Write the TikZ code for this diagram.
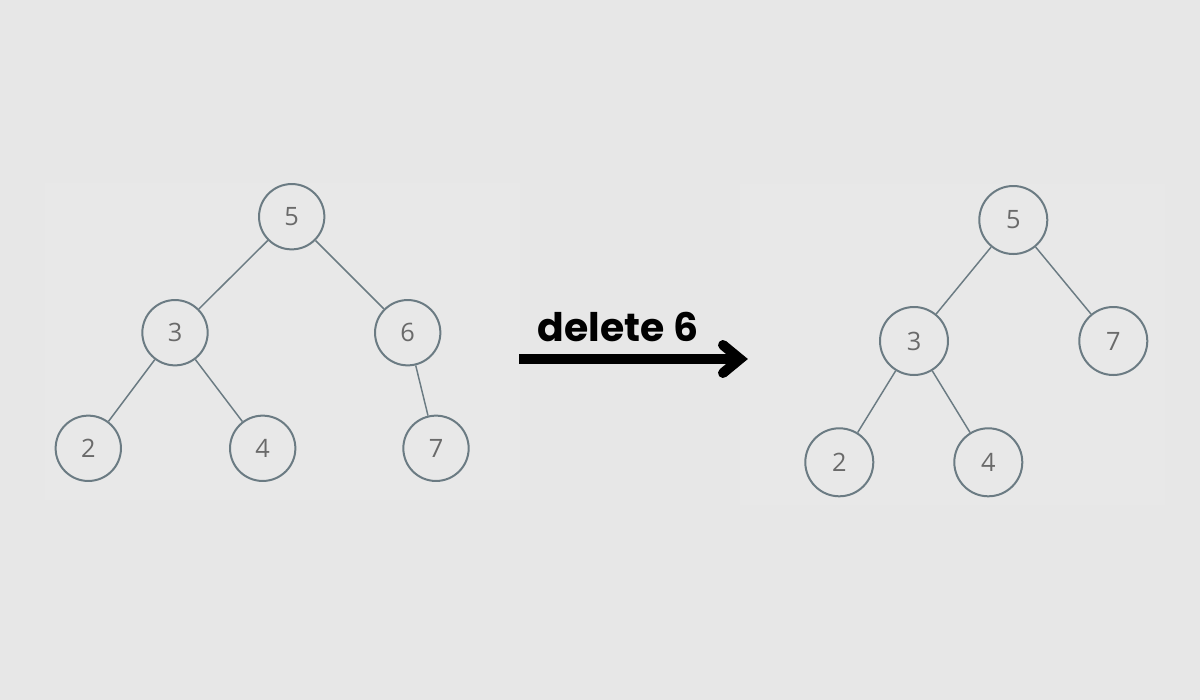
\documentclass[tikz,border=0pt]{standalone}
\usepackage{fontspec}
\usetikzlibrary{calc}
\setmainfont{Open Sans}
\newfontfamily\popfont{Poppins}
\definecolor{bgcol}{HTML}{E7E7E7}
\definecolor{panelcol}{HTML}{E8E8E8}
\definecolor{ringcol}{HTML}{6B7B83}
\definecolor{digitcol}{HTML}{6A6A6A}
\tikzset{
  treenode/.style={circle, draw=ringcol, line width=1.5pt, minimum size=49pt, inner sep=0pt,
    text=digitcol, font=\fontsize{19}{19}\selectfont},
  bignode/.style={treenode, minimum size=51pt},
  treeedge/.style={draw=ringcol, line width=1.1pt},
  bigarrow/.style={line width=7.5pt, black},
}
\begin{document}
\begin{tikzpicture}[x=0.75pt, y=-0.75pt]
\useasboundingbox (0,0) rectangle (1200,700);
\fill[bgcol] (0,0) rectangle (1200,700);
\fill[panelcol] (45,183) rectangle (520,500);
\fill[panelcol] (740,184) rectangle (1165,505);
% left tree
\node[treenode] (l5) at (291.7,216.7) {5};
\node[treenode] (l3) at (175,332.7) {3};
\node[treenode] (l6) at (407.7,332.7) {6};
\node[treenode] (l2) at (88.3,448.3) {2};
\node[treenode] (l4) at (262.7,448.3) {4};
\node[treenode] (l7) at (436,448.3) {7};
\draw[treeedge] (l5) -- (l3);
\draw[treeedge] (l5) -- (l6);
\draw[treeedge] (l3) -- (l2);
\draw[treeedge] (l3) -- (l4);
\draw[treeedge] (l6) -- (l7);
% right tree
\node[bignode] (r5) at (1013.3,220) {5};
\node[bignode] (r3) at (914,341) {3};
\node[bignode] (r7) at (1113.3,341) {7};
\node[bignode] (r2) at (839.3,462.3) {2};
\node[bignode] (r4) at (988.3,462.3) {4};
\draw[treeedge] (r5) -- (r3);
\draw[treeedge] (r5) -- (r7);
\draw[treeedge] (r3) -- (r2);
\draw[treeedge] (r3) -- (r4);
% arrow
\node[anchor=base, inner sep=0pt, font=\popfont\bfseries\fontsize{29.5}{30}\selectfont] (lbl) at (618,341.7) {delete 6};
\coordinate (as) at (519,359);
\coordinate (ae) at (740,359);
\draw[bigarrow, line cap=butt] (as) -- ($(ae)+(-4,0)$);
\draw[bigarrow, line cap=round, line join=miter] ($(ae)+(-17,-14)$) -- (ae) -- ($(ae)+(-17,14)$);
\end{tikzpicture}
\end{document}
